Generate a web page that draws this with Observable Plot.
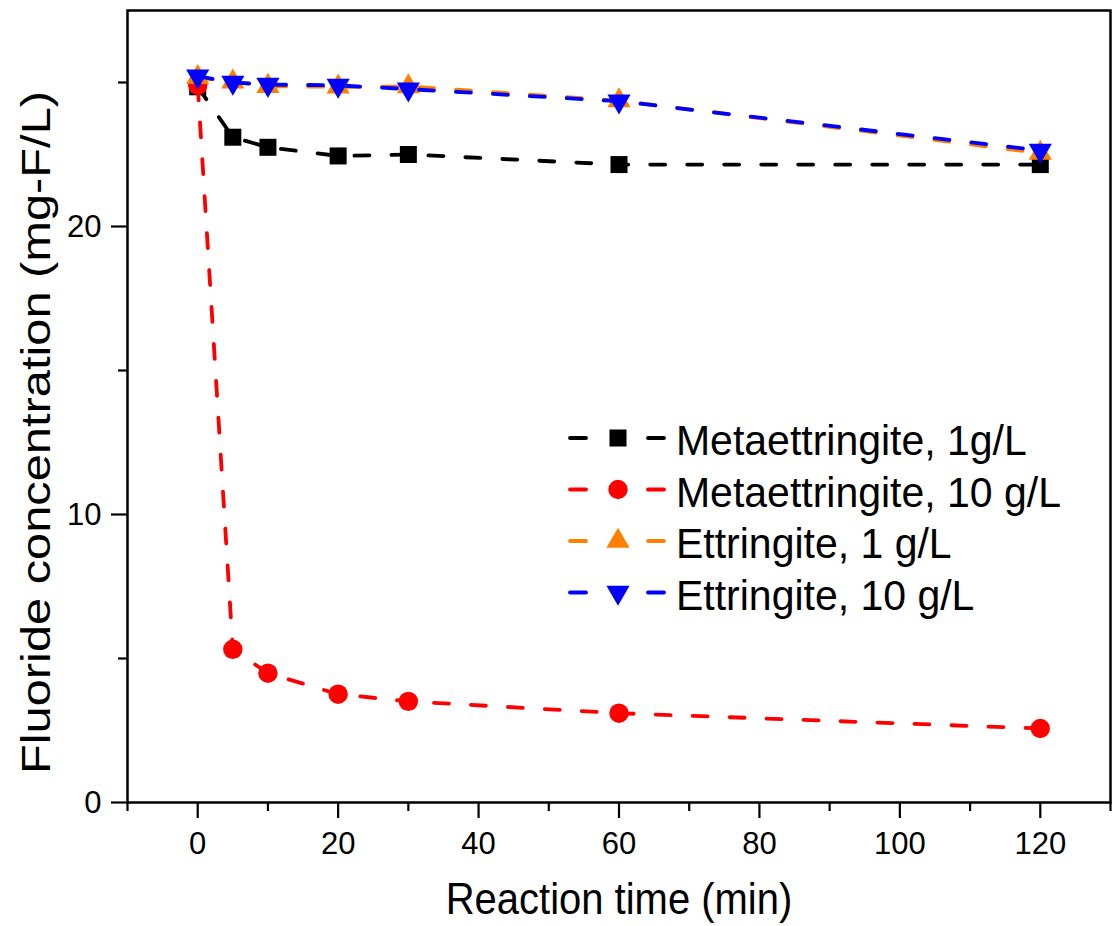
<!DOCTYPE html>
<html><head><meta charset="utf-8">
<script src="https://cdn.jsdelivr.net/npm/d3@7"></script>
<script src="https://cdn.jsdelivr.net/npm/@observablehq/plot@0.6"></script>
<style>body{margin:0;background:#fff}</style>
</head><body><div id="chart"></div>
<script>
const times = [0, 5, 10, 20, 30, 60, 120];
const seriesNames = ["Metaettringite, 1g/L", "Metaettringite, 10 g/L", "Ettringite, 1 g/L", "Ettringite, 10 g/L"];
const meta1 = [24.85, 23.1, 22.75, 22.45, 22.5, 22.15, 22.15];
const meta10 = [24.9, 5.32, 4.49, 3.76, 3.51, 3.10, 2.57];
const ett1 = [25.18, 25.02, 24.87, 24.85, 24.86, 24.37, 22.55];
const ett10 = [25.22, 25.0, 24.93, 24.9, 24.77, 24.35, 22.64];
const colors = ["#000000", "#ff0000", "#ff8000", "#0000ff"];
const xMajorTicks = [0, 20, 40, 60, 80, 100, 120];
const xMinorTicks = [-10, 10, 30, 50, 70, 90, 110, 130];
const yMajorTicks = [0, 10, 20];
const yMinorTicks = [5, 15, 25];
const xLabel = "Reaction time (min)";
const yLabel = "Fluoride concentration (mg-F/L)";

const triangleDown = {
  draw(ctx, size) {
    const y = -Math.sqrt(size / (3 * Math.sqrt(3)));
    ctx.moveTo(0, -2 * y);
    ctx.lineTo(-Math.sqrt(3) * y, y);
    ctx.lineTo(Math.sqrt(3) * y, y);
    ctx.closePath();
  }
};
const plotSymbols = ["square", "circle", "triangle", triangleDown];
const d3Symbols = [d3.symbolSquare, d3.symbolCircle, d3.symbolTriangle, triangleDown];
const radii = [9.6, 9.7, 8.6, 8.6];
const values = [meta1, meta10, ett1, ett10];

const rows = seriesNames.flatMap((s, i) => times.map((t, j) => ({series: s, t, v: values[i][j]})));

const marks = [];
seriesNames.forEach((s, i) => {
  const d = rows.filter(r => r.series === s);
  marks.push(Plot.line(d, {x: "t", y: "v", stroke: colors[i], strokeWidth: 3.8, strokeDasharray: "15,22", strokeLinecap: "round"}));
  marks.push(Plot.dot(d, {x: "t", y: "v", fill: colors[i], symbol: plotSymbols[i], r: radii[i], stroke: "none"}));
});

const svg = Plot.plot({
  width: 1117, height: 926,
  marginLeft: 127, marginRight: 7, marginTop: 10, marginBottom: 124,
  style: {fontFamily: "'Liberation Sans', Arial, sans-serif", background: "#fff", color: "#000"},
  x: {domain: [-10, 130]},
  y: {domain: [0, 27.5]},
  marks: [
    Plot.axisX({ticks: xMajorTicks, tickSize: 16, tickPadding: 13, fontSize: 31, label: null, strokeWidth: 2.2, tickFormat: d => String(d), className: "tk"}),
    Plot.axisX({ticks: xMinorTicks, tickSize: 9, text: null, label: null, strokeWidth: 2.2}),
    Plot.axisY({ticks: yMajorTicks, tickSize: 16, tickPadding: 10, fontSize: 31, label: null, strokeWidth: 2.2, tickFormat: d => String(d), className: "tk"}),
    Plot.axisY({ticks: yMinorTicks, tickSize: 9, text: null, label: null, strokeWidth: 2.2}),
    ...marks,
    Plot.frame({stroke: "#000", strokeWidth: 2.5}),
    Plot.text([xLabel], {frameAnchor: "bottom", dy: 97, fontSize: 40, textAnchor: "middle", lineAnchor: "middle", text: d => d, className: "xt"}),
    Plot.text([yLabel], {frameAnchor: "left", dx: -91, dy: 26, rotate: -90, fontSize: 41, textAnchor: "middle", lineAnchor: "middle", text: d => d, className: "yt"})
  ]
});
document.getElementById("chart").appendChild(svg);

// legend
const lg = d3.select(svg).append("g").attr("class", "lg")
  .attr("font-family", "'Liberation Sans', Arial, sans-serif").attr("text-anchor", "start");
seriesNames.forEach((s, i) => {
  const y = 438 + i * 51.5;
  const g = lg.append("g");
  g.append("line").attr("x1", 570).attr("x2", 586).attr("y1", y).attr("y2", y)
    .attr("stroke", colors[i]).attr("stroke-width", 3.8).attr("stroke-linecap", "round");
  g.append("line").attr("x1", 648).attr("x2", 664).attr("y1", y).attr("y2", y)
    .attr("stroke", colors[i]).attr("stroke-width", 3.8).attr("stroke-linecap", "round");
  g.append("path").attr("transform", `translate(618,${y})`)
    .attr("d", d3.symbol(d3Symbols[i], Math.PI * radii[i] * radii[i])())
    .attr("fill", colors[i]);
  g.append("text").attr("x", 676).attr("y", y + 2).attr("dy", "0.35em")
    .attr("text-anchor", "start")
    .attr("font-size", 41).attr("fill", "#000").text(s);
});

// lettering proportions as in the reference
function stretch(sel, k, alongLength) {
  svg.querySelectorAll(sel).forEach(t => {
    const b = t.getBBox();
    const tr = t.getAttribute("transform") || "";
    if (alongLength) {
      const mx = b.x + b.width / 2;
      t.setAttribute("transform", `${tr} translate(${mx},0) scale(${k},1) translate(${-mx},0)`);
    } else {
      const my = b.y + b.height / 2;
      t.setAttribute("transform", `${tr} translate(0,${my}) scale(1,${k}) translate(0,${-my})`);
    }
  });
}
stretch(".tk text", 1.04, false);
stretch(".xt text", 1.1, false);
stretch(".lg text", 1.05, false);
stretch(".yt text", 1.19, true);
</script>
</body></html>
